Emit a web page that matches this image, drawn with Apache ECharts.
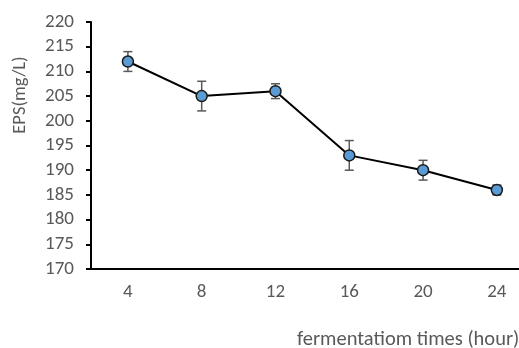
<!DOCTYPE html>
<html><head><meta charset="utf-8">
<script src="https://cdn.jsdelivr.net/npm/echarts@6/dist/echarts.min.js"></script>
<style>html,body{margin:0;padding:0;background:#fff}#c{width:519px;height:348px}</style>
</head><body><div id="c"></div>
<script>
var times = [4, 8, 12, 16, 20, 24];
var epsValues = [212, 205, 206, 193, 190, 186];
var epsErrors = [2, 3, 1.5, 3, 2, 1];
var xTickLabels = [4, 8, 12, 16, 20, 24];
var yTicks = {min:170, max:220, interval:5};

var chart = echarts.init(document.getElementById('c'), null, {renderer:'canvas'});
var lineData = times.map(function(t,i){return [t, epsValues[i]];});
var errData = times.map(function(t,i){return [t, epsValues[i]-epsErrors[i], epsValues[i]+epsErrors[i]];});
var font = 'Carlito, "Open Sans", "Liberation Sans", sans-serif';
chart.setOption({
  animation:false,
  backgroundColor:'#fff',
  grid:{left:91, top:22, right:0, bottom:79, containLabel:false},
  xAxis:{type:'value', min:2, max:25.2,
    axisLine:{show:true, lineStyle:{color:'#000', width:2}},
    axisTick:{show:false},
    axisLabel:{color:'#595959', fontSize:19, fontFamily:font, margin:14, customValues:xTickLabels},
    splitLine:{show:false}},
  yAxis:{type:'value', min:yTicks.min, max:yTicks.max, interval:yTicks.interval,
    axisLine:{show:true, lineStyle:{color:'#000', width:2}},
    axisTick:{show:true, length:5, lineStyle:{color:'#000', width:2}},
    axisLabel:{color:'#595959', fontSize:19, fontFamily:font, margin:17},
    splitLine:{show:false}},
  graphic:[
    {type:'text', x:20, y:95, rotation:Math.PI/2, style:{text:'EPS(mg/L)', fill:'#595959', font:'18.5px '+font, align:'center', verticalAlign:'middle'}},
    {type:'text', x:297, y:340, style:{text:'fermentatiom times (hour)', fill:'#595959', font:'20.5px '+font, align:'left', verticalAlign:'middle'}}
  ],
  series:[
    {type:'custom', data:errData, z:1,
      renderItem:function(params, api){
        var x = api.value(0);
        var lo = api.coord([x, api.value(1)]);
        var hi = api.coord([x, api.value(2)]);
        var w = 4.5;
        var st = {stroke:'#595959', lineWidth:1.5};
        return {type:'group', children:[
          {type:'line', shape:{x1:lo[0], y1:lo[1], x2:hi[0], y2:hi[1]}, style:st},
          {type:'line', shape:{x1:lo[0]-w, y1:lo[1], x2:lo[0]+w, y2:lo[1]}, style:st},
          {type:'line', shape:{x1:hi[0]-w, y1:hi[1], x2:hi[0]+w, y2:hi[1]}, style:st}
        ]};
      }},
    {type:'line', data:lineData, z:2,
      symbol:'circle', symbolSize:11,
      lineStyle:{color:'#000', width:2},
      itemStyle:{color:'#5B9BD5', borderColor:'#1a1a1a', borderWidth:1.5}}
  ]
});
</script></body></html>
